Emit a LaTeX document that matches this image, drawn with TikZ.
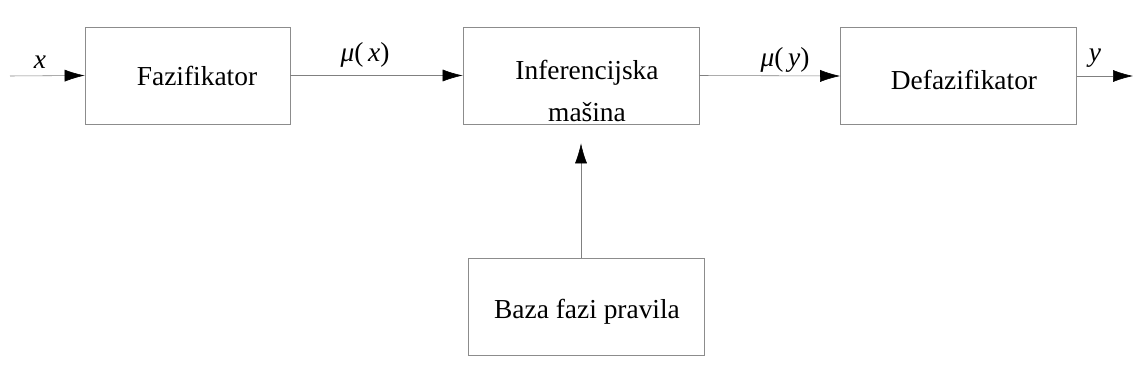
\documentclass[tikz,border=0pt]{standalone}
\usepackage{fontspec}
\setmainfont{Liberation Serif}
\usetikzlibrary{arrows.meta}

\begin{document}
\begin{tikzpicture}[x=0.025cm, y=-0.025cm,
    block/.style={draw=black!45, thin, minimum width=5.9cm, minimum height=2.425cm, inner sep=0pt},
    link/.style={draw=black!50, thin, -{Latex[length=5mm, width=3mm, color=black]}},
    every node/.style={font=\fontsize{19.5}{22}\selectfont}]

    \useasboundingbox (0,0) rectangle (1133,381);

    \def \ymain {76}

    % the four blocks
    \node[block, minimum width=5.125cm] (fazi) at (187.5,75.5) {};
    \node[block] (infer) at (581,75.5) {};
    \node[block] (defazi) at (958.5,76) {};
    \node[block] (baza) at (586,306.5) {};

    \node (fazitext) at (197,\ymain) {Fazifikator};
    \node[align=center] (infertext) at (587,91) {Inferencijska\\[8pt]mašina};
    \node (defazitext) at (964,80) {Defazifikator};
    \node (bazatext) at (587,312) {Baza fazi pravila};

    % signals
    \coordinate (in) at (10,\ymain);
    \coordinate (out) at (1133,\ymain);

    \draw[link] (in) -- (fazi.west);
    \draw[link] (fazi.east) -- (infer.west);
    \draw[link] (infer.east) -- (defazi.west);
    \draw[link] (defazi.east) -- (out);
    \draw[link, shorten >=0.475cm] (baza.north -| infer.south) -- (infer.south);

    \foreach \px/\py/\sig in {40/62/\textit{x}, 365/55/\textit{μ}(\,\textit{x}), 785/60/\textit{μ}(\,\textit{y}), 1095/58/\textit{y}}
    {
      \node at (\px,\py) {\sig};
    }
\end{tikzpicture}
\end{document}
